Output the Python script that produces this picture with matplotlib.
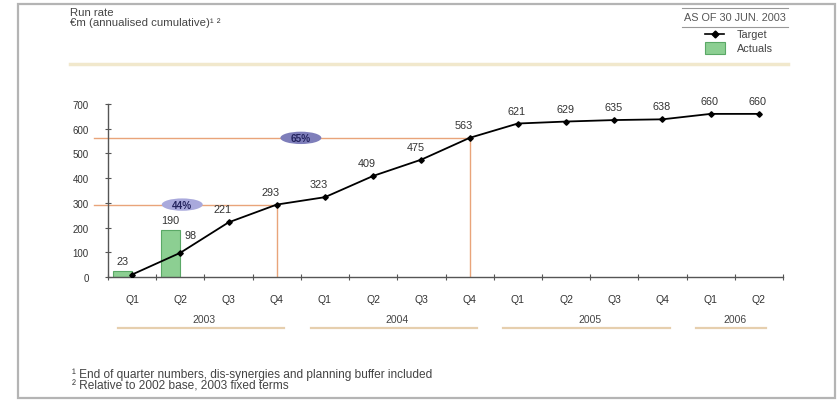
import matplotlib
matplotlib.use("Agg")
import matplotlib.pyplot as plt
import numpy as np
from matplotlib.patches import Rectangle, Ellipse
from matplotlib.lines import Line2D
import matplotlib.transforms as mtransforms

# ---- data ----
quarters = ["Q1", "Q2", "Q3", "Q4", "Q1", "Q2", "Q3", "Q4", "Q1", "Q2", "Q3", "Q4", "Q1", "Q2"]
years = ["2003", "2004", "2005", "2006"]
year_groups = [(0, 3), (4, 7), (8, 11), (12, 13)]
target = [10, 98, 221, 293, 323, 409, 475, 563, 621, 629, 635, 638, 660, 660]
target_labels = ["", "98", "221", "293", "323", "409", "475", "563", "621", "629", "635", "638", "660", "660"]
actuals = [23, 190] + [np.nan] * 12
actual_labels = ["23", "190"]
milestones = [(3, 293, "44%", 1.04), (7, 563, "65%", 3.5)]  # (quarter index, value, pct, badge x)
yticks = [0, 100, 200, 300, 400, 500, 600, 700]

W, H = 838, 402
fig = plt.figure(figsize=(W / 100, H / 100), dpi=100)
plt.rcParams['font.family'] = ['Liberation Sans', 'DejaVu Sans']

def px(x, y):
    return (x / W, 1 - y / H)

# frame
fig.patches.append(Rectangle(px(18, 399), (835 - 18) / W, (399 - 5) / H, transform=fig.transFigure,
                             fill=False, edgecolor='#b4b4b4', lw=1.6))

# axes placement
ax_l, ax_r, ax_t, ax_b = 108, 783, 105, 278
ax = fig.add_axes([ax_l / W, 1 - ax_b / H, (ax_r - ax_l) / W, (ax_b - ax_t) / H])
x = np.arange(len(quarters))
ax.set_xlim(-0.5, len(quarters) - 0.5)
ax.set_ylim(0, 700)
for s in ["top", "right"]:
    ax.spines[s].set_visible(False)
for s in ["left", "bottom"]:
    ax.spines[s].set_color('#555555')
    ax.spines[s].set_linewidth(1.0)

ax.set_yticks(yticks)
ax.set_yticklabels([str(v) for v in yticks], fontsize=7, color='#333333')
ax.tick_params(axis='y', direction='inout', length=4, width=0.8, color='#555555', pad=12)
ax.set_xticks(x)
ax.set_xticklabels(quarters, fontsize=7.5, color='#333333')
ax.tick_params(axis='x', which='major', length=0, pad=12)
ax.set_xticks(np.arange(-0.5, len(quarters), 1.0), minor=True)
ax.tick_params(axis='x', which='minor', direction='inout', length=4, width=0.8, color='#555555')

# orange reference lines
ref_col = '#e9a47a'
for qi, val, pct, bx in milestones:
    ax.plot([-0.79, qi], [val, val], color=ref_col, lw=1.0, clip_on=False, zorder=1)
    ax.plot([qi, qi], [0, val], color=ref_col, lw=1.0, zorder=1)

# bars (actuals)
ax.bar(x, actuals, width=-0.4, align='edge', color='#8ccf92', edgecolor='#5aa866', lw=0.8, zorder=2)

# target line
ax.plot(x, target, color='black', lw=1.3, marker='D', markersize=2.8, zorder=4)

# target labels
lab_fs = 7.8
for i, (v, lab) in enumerate(zip(target, target_labels)):
    if not lab:
        continue
    if i == 1:
        ax.annotate(lab, (i, v), xytext=(10, 18), textcoords='offset pixels', ha='center', va='center',
                    fontsize=lab_fs, color='#333333')
    else:
        dx = -6 if i <= 7 else -1
        ax.annotate(lab, (i, v), xytext=(dx, 13), textcoords='offset pixels', ha='center', va='center',
                    fontsize=lab_fs, color='#333333')
# actual labels
for i, lab in enumerate(actual_labels):
    ax.annotate(lab, (i - 0.2, actuals[i]), xytext=(0, 10), textcoords='offset pixels', ha='center',
                va='center', fontsize=lab_fs, color='#333333')

# milestone badges
badge_cols = ['#a9a9dc', '#7e7eba']
for (qi, val, pct, bx), bc in zip(milestones, badge_cols):
    e = Ellipse((bx, val), 0.85, 50, facecolor=bc, edgecolor='none', zorder=5)
    ax.add_patch(e)
    ax.text(bx, val, pct, ha='center', va='center', fontsize=7.2, color='#23235e', fontweight='bold', zorder=6)

# year labels and underlines
trans = mtransforms.blended_transform_factory(ax.transData, ax.transAxes)
for yr, (a, b) in zip(years, year_groups):
    ax.text((a + b) / 2, -0.243, yr, transform=trans, ha='center', va='center', fontsize=7.5, color='#444444')
    ax.add_line(Line2D([a - 0.3, b + 0.15], [-0.295, -0.295], transform=trans, color='#e6cfae', lw=1.6,
                       clip_on=False))

txt_fs = 8.2
# header
fig.text(*px(70, 13), "Run rate", fontsize=txt_fs, color='#444444', va='center')
fig.text(*px(70, 23), "€m (annualised cumulative)¹ ²", fontsize=txt_fs, color='#444444', va='center')
# beige band
fig.add_artist(Line2D([70 / W, 788 / W], [1 - 65 / H] * 2, transform=fig.transFigure, color='#f1e8cc', lw=2.5))

# top-right date box
fig.add_artist(Line2D([682 / W, 788 / W], [1 - 9 / H] * 2, transform=fig.transFigure, color='#999999', lw=0.8))
fig.add_artist(Line2D([682 / W, 788 / W], [1 - 28 / H] * 2, transform=fig.transFigure, color='#999999', lw=0.8))
fig.text(*px(735, 18), "AS OF 30 JUN. 2003", fontsize=7.8, color='#555555', ha='center', va='center')

# legend
fig.add_artist(Line2D([705 / W, 724 / W], [1 - 35 / H] * 2, transform=fig.transFigure, color='black', lw=1.2))
fig.add_artist(Line2D([714.5 / W], [1 - 35 / H], transform=fig.transFigure, color='black', marker='D',
                      markersize=3.5, lw=0))
fig.patches.append(Rectangle(px(705, 55), 20 / W, 12 / H, transform=fig.transFigure,
                             facecolor='#8ccf92', edgecolor='#5aa866', lw=0.8))
fig.text(*px(737, 35), "Target", fontsize=7.8, color='#444444', va='center')
fig.text(*px(737, 49), "Actuals", fontsize=7.8, color='#444444', va='center')

# footnotes
fig.text(*px(72, 375), "¹ End of quarter numbers, dis-synergies and planning buffer included", fontsize=8.6,
         color='#444444', va='center')
fig.text(*px(72, 387), "² Relative to 2002 base, 2003 fixed terms", fontsize=8.6, color='#444444', va='center')

fig.savefig("out.png", dpi=100, facecolor='white')
